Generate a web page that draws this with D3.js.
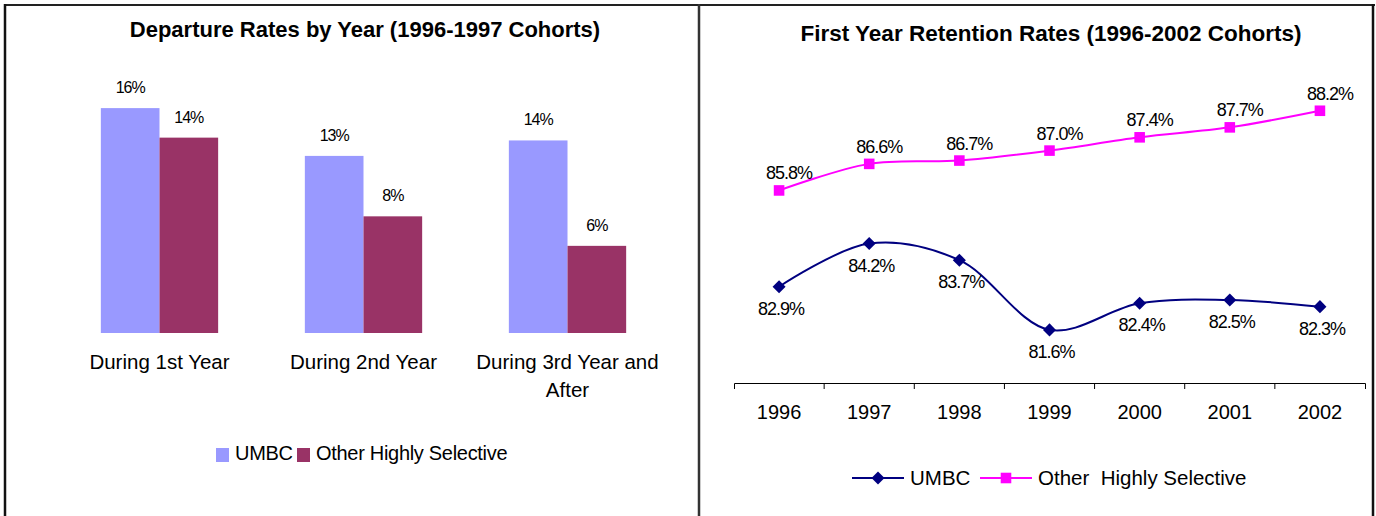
<!DOCTYPE html>
<html>
<head>
<meta charset="utf-8">
<script src="https://cdnjs.cloudflare.com/ajax/libs/d3/7.8.5/d3.min.js"></script>
<style>
  body { margin: 0; background: white; }
  svg { display: block; font-family: "Liberation Sans", Arial, sans-serif; }
</style>
</head>
<body>
<div class="charts"></div>
<script>
// departure chart (left)
var stages = ["During 1st Year", "During 2nd Year", "During 3rd Year and After"];
var barSeries = ["UMBC", "Other Highly Selective"];
var umbcDeparture = [0.160, 0.126, 0.137];
var otherDeparture = [0.139, 0.083, 0.062];
var barColors = ["#9999FF", "#993366"];

// retention chart (right)
var years = ["1996", "1997", "1998", "1999", "2000", "2001", "2002"];
var lineSeries = ["UMBC", "Other  Highly Selective"];
var umbcRetention = [82.9, 84.2, 83.7, 81.6, 82.4, 82.5, 82.3];
var otherRetention = [85.8, 86.6, 86.7, 87.0, 87.4, 87.7, 88.2];
var lineColors = ["#000080", "#FF00FF"];

var svg = d3.select(".charts")
            .append("svg")
            .attr("width", 1376)
            .attr("height", 516)
            .style("background-color", "white");

// panel frames
svg.append("line")
   .attr("x1", 4).attr("y1", 5).attr("x2", 1375).attr("y2", 5)
   .attr("stroke", "#222").attr("stroke-width", 2);
svg.append("line")
   .attr("x1", 5).attr("y1", 4).attr("x2", 5).attr("y2", 516)
   .attr("stroke", "#111").attr("stroke-width", 2.5);
svg.append("line")
   .attr("x1", 699).attr("y1", 4).attr("x2", 699).attr("y2", 516)
   .attr("stroke", "#333").attr("stroke-width", 2.5);
svg.append("line")
   .attr("x1", 1373).attr("y1", 4).attr("x2", 1373).attr("y2", 516)
   .attr("stroke", "#111").attr("stroke-width", 2.5);

// ---------- left: grouped bars ----------
var left = svg.append("g");

left.append("text")
    .attr("text-anchor", "middle")
    .attr("x", 365)
    .attr("y", 37)
    .style("font-size", "22px")
    .style("font-weight", "bold")
    .text("Departure Rates by Year (1996-1997 Cohorts)");

var x0 = d3.scaleBand()
           .domain(stages)
           .range([58, 669])
           .paddingInner(0.425)
           .paddingOuter(0.21);
var x1 = d3.scaleBand()
           .domain(barSeries)
           .range([0, x0.bandwidth()]);
var yBar = d3.scaleLinear()
             .domain([0, 0.18])
             .range([333, 80]);

var barRows = stages.map(function(s, i) {
  return [
    {stage: s, series: barSeries[0], value: umbcDeparture[i], color: barColors[0]},
    {stage: s, series: barSeries[1], value: otherDeparture[i], color: barColors[1]}
  ];
});

var groups = left.selectAll(".stage")
                 .data(barRows)
                 .enter().append("g")
                 .attr("transform", function(d, i) { return "translate(" + x0(stages[i]) + ",0)"; });

groups.selectAll("rect")
      .data(function(d) { return d; })
      .enter().append("rect")
      .attr("x", function(d) { return x1(d.series); })
      .attr("y", function(d) { return yBar(d.value); })
      .attr("width", x1.bandwidth())
      .attr("height", function(d) { return yBar(0) - yBar(d.value); })
      .attr("fill", function(d) { return d.color; });

var pct0 = d3.format(".0%");
groups.selectAll(".lbl")
      .data(function(d) { return d; })
      .enter().append("text")
      .attr("text-anchor", "middle")
      .attr("x", function(d) { return x1(d.series) + x1.bandwidth() / 2; })
      .attr("y", function(d) { return yBar(d.value) - 15; })
      .style("font-size", "16px")
      .style("letter-spacing", "-1px")
      .text(function(d) { return pct0(d.value); });

// category labels, wrapped to the band step
var cats = left.selectAll(".cat")
               .data(stages)
               .enter().append("text")
               .attr("text-anchor", "middle")
               .attr("x", function(d) { return x0(d) + x0.bandwidth() / 2; })
               .attr("y", 369)
               .style("font-size", "20.5px");

cats.each(function(d) {
  var t = d3.select(this);
  var words = d.split(" ");
  var line = [];
  var tspan = t.append("tspan").attr("x", t.attr("x")).attr("dy", 0);
  words.forEach(function(w) {
    line.push(w);
    tspan.text(line.join(" "));
    if (tspan.node().getComputedTextLength() > x0.step() - 10 && line.length > 1) {
      line.pop();
      tspan.text(line.join(" "));
      line = [w];
      tspan = t.append("tspan").attr("x", t.attr("x")).attr("dy", "28px").text(w);
    }
  });
});

// legend
var barLegend = left.append("g");
var barLegendX = [216, 297];
barSeries.forEach(function(s, i) {
  barLegend.append("rect")
           .attr("x", barLegendX[i])
           .attr("y", 448)
           .attr("width", 13)
           .attr("height", 14)
           .attr("fill", barColors[i]);
  barLegend.append("text")
           .attr("x", barLegendX[i] + 19)
           .attr("y", 460)
           .style("font-size", "20px")
           .style("letter-spacing", "-0.3px")
           .text(s);
});

// ---------- right: smoothed lines ----------
var right = svg.append("g");

right.append("text")
     .attr("text-anchor", "middle")
     .attr("x", 1051)
     .attr("y", 41)
     .style("font-size", "22.5px")
     .style("font-weight", "bold")
     .text("First Year Retention Rates (1996-2002 Cohorts)");

var xr = d3.scaleBand()
           .domain(years)
           .range([734, 1365]);
var yr = d3.scaleLinear()
           .domain([80, 90])
           .range([383, 51]);

var axis = right.append("g")
                .attr("transform", "translate(0," + yr(80) + ")")
                .call(d3.axisBottom(xr).tickSizeInner(0).tickSizeOuter(6).tickPadding(22));
axis.select(".domain").attr("stroke", "#000");
axis.selectAll("text")
    .style("font-size", "20px")
    .style("font-family", "'Liberation Sans', Arial, sans-serif")
    .attr("fill", "#000");
// tick marks sit between the categories
axis.selectAll(".sep")
    .data(years.slice(1))
    .enter().append("line")
    .attr("x1", function(d) { return xr(d); })
    .attr("x2", function(d) { return xr(d); })
    .attr("y1", 0)
    .attr("y2", 6)
    .attr("stroke", "#000");

var lineData = [
  {name: lineSeries[0], values: umbcRetention, color: lineColors[0], shape: "diamond", dx: 2, dy: 28},
  {name: lineSeries[1], values: otherRetention, color: lineColors[1], shape: "square", dx: 10, dy: -11}
];

var cx = function(i) { return xr(years[i]) + xr.bandwidth() / 2; };
var smooth = d3.line()
               .x(function(d, i) { return cx(i); })
               .y(function(d) { return yr(d); })
               .curve(d3.curveCatmullRom.alpha(0.5));

var diamond = d3.symbol().type(d3.symbolSquare).size(85);
var square = d3.symbol().type(d3.symbolSquare).size(112);
function marker(sel, shape, x, y, color) {
  sel.append("path")
     .attr("d", shape === "diamond" ? diamond() : square())
     .attr("transform", "translate(" + x + "," + y + ")" + (shape === "diamond" ? " rotate(45)" : ""))
     .attr("fill", color);
}

var pct1 = d3.format(".1f");
lineData.forEach(function(s) {
  right.append("path")
       .attr("d", smooth(s.values))
       .attr("fill", "none")
       .attr("stroke", s.color)
       .attr("stroke-width", 2);
  s.values.forEach(function(v, i) {
    marker(right, s.shape, cx(i), yr(v), s.color);
    right.append("text")
         .attr("text-anchor", "middle")
         .attr("x", cx(i) + s.dx)
         .attr("y", yr(v) + s.dy)
         .style("font-size", "18px")
         .style("letter-spacing", "-1px")
         .text(pct1(v) + "%");
  });
});

// legend
var lineLegendX = [852, 980];
lineData.forEach(function(s, i) {
  var lx = lineLegendX[i];
  right.append("line")
       .attr("x1", lx).attr("x2", lx + 52)
       .attr("y1", 478).attr("y2", 478)
       .attr("stroke", s.color)
       .attr("stroke-width", 2);
  marker(right, s.shape, lx + 26, 478, s.color);
  right.append("text")
       .attr("x", lx + 58)
       .attr("y", 485)
       .style("font-size", "20.5px")
       .style("white-space", "pre")
       .text(s.name);
});
</script>
</body>
</html>
